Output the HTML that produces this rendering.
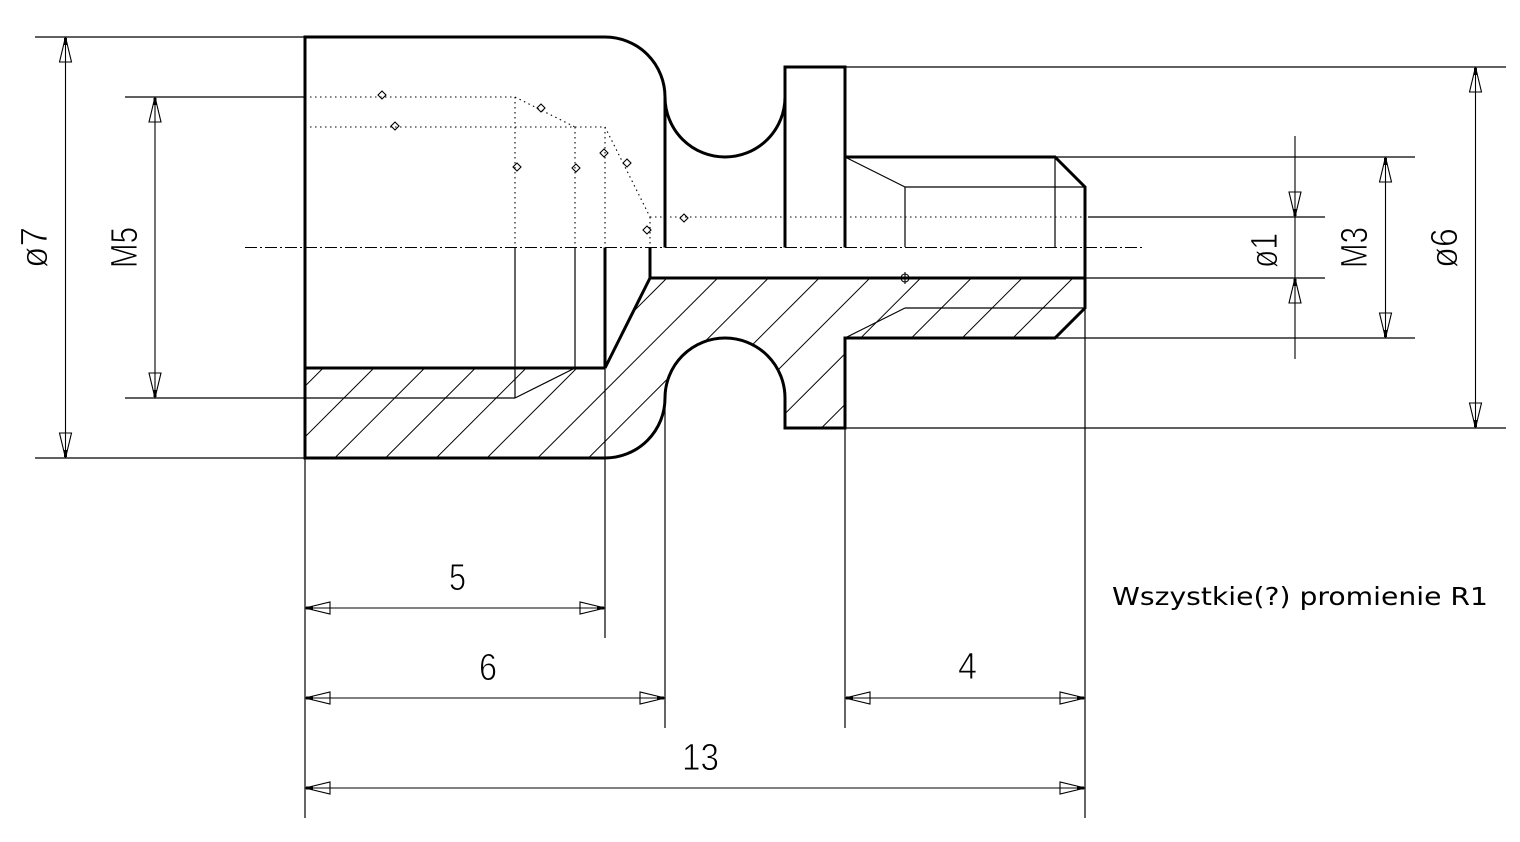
<!DOCTYPE html>
<html><head><meta charset="utf-8"><style>
html,body{margin:0;padding:0;background:#fff;}
svg{display:block;}
.k{stroke:#000;stroke-width:3;fill:none;stroke-linejoin:miter;}
.t{stroke:#000;stroke-width:1.2;fill:none;}
.d{stroke:#000;stroke-width:1.1;fill:none;stroke-dasharray:1.5 3.5;}
.h{stroke:#000;stroke-width:1;}
.a{stroke:#000;stroke-width:1.1;fill:none;}
.num{font-family:"Liberation Sans",sans-serif;font-size:38px;fill:#000;stroke:#fff;stroke-width:0.9;}
</style></head><body>
<svg width="1520" height="842" viewBox="0 0 1520 842" xmlns="http://www.w3.org/2000/svg">
<rect width="1520" height="842" fill="#fff"/>
<defs>
<clipPath id="sec"><path d="M305,368 L605,368 L650,278 L1085,278 L1085,308 L1055,338 L845,338 L845,428 L785,428 L785,398 A60,60 0 0,0 665,398 A60,60 0 0,1 605,458 L305,458 Z"/></clipPath>
</defs>

<!-- hatching -->
<g clip-path="url(#sec)" class="h">
<line x1="140.45" y1="500" x2="440.45" y2="200"/>
<line x1="191.2" y1="500" x2="491.2" y2="200"/>
<line x1="241.95" y1="500" x2="541.95" y2="200"/>
<line x1="292.7" y1="500" x2="592.7" y2="200"/>
<line x1="343.45" y1="500" x2="643.45" y2="200"/>
<line x1="394.2" y1="500" x2="694.2" y2="200"/>
<line x1="444.95" y1="500" x2="744.95" y2="200"/>
<line x1="495.7" y1="500" x2="795.7" y2="200"/>
<line x1="546.45" y1="500" x2="846.45" y2="200"/>
<line x1="597.2" y1="500" x2="897.2" y2="200"/>
<line x1="647.95" y1="500" x2="947.95" y2="200"/>
<line x1="698.7" y1="500" x2="998.7" y2="200"/>
<line x1="749.45" y1="500" x2="1049.45" y2="200"/>
<line x1="800.2" y1="500" x2="1100.2" y2="200"/>
<line x1="850.95" y1="500" x2="1150.95" y2="200"/>
<line x1="901.7" y1="500" x2="1201.7" y2="200"/>
</g>

<!-- centerline -->
<line x1="245" y1="247.5" x2="1145" y2="247.5" stroke="#000" stroke-width="1.1" stroke-dasharray="12 3 2 3"/>

<!-- hidden lines -->
<g class="d">
<line x1="305" y1="97" x2="515" y2="97"/>
<line x1="515" y1="97" x2="575" y2="127"/>
<line x1="305" y1="127" x2="605" y2="127"/>
<line x1="515" y1="97" x2="515" y2="247"/>
<line x1="575" y1="127" x2="575" y2="247"/>
<line x1="605" y1="127" x2="605" y2="247"/>
<line x1="605" y1="127" x2="650" y2="217"/>
<line x1="650" y1="217" x2="1088" y2="217"/>
<line x1="650" y1="217" x2="650" y2="247"/>
</g>
<!-- diamonds -->
<g class="a" stroke-width="0.9">
<path d="M382,91 L386,95 L382,99 L378,95 Z"/>
<path d="M395,122 L399,126 L395,130 L391,126 Z"/>
<path d="M541,104 L545,108 L541,112 L537,108 Z"/>
<path d="M517,163 L521,167 L517,171 L513,167 Z"/>
<path d="M576,164 L580,168 L576,172 L572,168 Z"/>
<path d="M604,149 L608,153 L604,157 L600,153 Z"/>
<path d="M627,159 L631,163 L627,167 L623,163 Z"/>
<path d="M647,226 L651,230 L647,234 L643,230 Z"/>
<path d="M684,214 L688,218 L684,222 L680,218 Z"/>
</g>
<!-- crosshair -->
<circle cx="905" cy="278" r="4" class="a"/>
<line x1="899" y1="278" x2="911" y2="278" class="a"/>
<line x1="905" y1="272" x2="905" y2="284" class="a"/>

<!-- thin part lines -->
<g class="t">
<line x1="515" y1="247" x2="515" y2="398"/>
<line x1="575" y1="247" x2="575" y2="368"/>
<line x1="515" y1="398" x2="575" y2="368"/>
<line x1="845" y1="157" x2="905" y2="187"/>
<line x1="905" y1="187" x2="1085" y2="187"/>
<line x1="905" y1="187" x2="905" y2="247"/>
<line x1="1055" y1="157" x2="1055" y2="247"/>
<line x1="905" y1="308" x2="1085" y2="308"/>
<line x1="905" y1="308" x2="845" y2="338"/>
</g>

<!-- extension lines -->
<g class="t">
<line x1="35" y1="37" x2="305" y2="37"/>
<line x1="35" y1="458" x2="305" y2="458"/>
<line x1="125" y1="97" x2="305" y2="97"/>
<line x1="125" y1="398" x2="515" y2="398"/>
<line x1="845" y1="67" x2="1506" y2="67"/>
<line x1="845" y1="428" x2="1506" y2="428"/>
<line x1="1055" y1="157" x2="1415" y2="157"/>
<line x1="1055" y1="338" x2="1415" y2="338"/>
<line x1="1088" y1="217" x2="1325" y2="217"/>
<line x1="1085" y1="278" x2="1325" y2="278"/>
<line x1="305" y1="458" x2="305" y2="818"/>
<line x1="605" y1="368" x2="605" y2="638"/>
<line x1="665" y1="398" x2="665" y2="728"/>
<line x1="845" y1="428" x2="845" y2="728"/>
<line x1="1085" y1="308" x2="1085" y2="818"/>
</g>

<!-- thick outline -->
<path class="k" d="M305,458 L305,37 L605,37 A60,60 0 0,1 665,97 A60,60 0 0,0 785,97 L785,67 L845,67 L845,157 L1055,157 L1085,187 L1085,308 L1055,338 L845,338 L845,428 L785,428 L785,398 A60,60 0 0,0 665,398 A60,60 0 0,1 605,458 Z"/>
<g class="k">
<line x1="665" y1="97" x2="665" y2="247.5"/>
<line x1="785" y1="97" x2="785" y2="247.5"/>
<line x1="845" y1="157" x2="845" y2="247.5"/>
<line x1="605" y1="247.5" x2="605" y2="368"/>
<line x1="305" y1="368" x2="605" y2="368"/>
<line x1="605" y1="368" x2="650" y2="278"/>
<line x1="650" y1="247.5" x2="650" y2="278"/>
<line x1="650" y1="278" x2="1085" y2="278"/>
</g>

<!-- dimension lines -->
<g class="a">
<!-- Ø7 -->
<line x1="65.5" y1="37" x2="65.5" y2="458"/>
<path d="M65.5,37 L59.5,62 L71.5,62 Z M65.5,458 L59.5,433 L71.5,433 Z"/>
<!-- M5 -->
<line x1="155" y1="97" x2="155" y2="398"/>
<path d="M155,97 L149,122 L161,122 Z M155,398 L149,373 L161,373 Z"/>
<!-- Ø6 -->
<line x1="1475.5" y1="67" x2="1475.5" y2="428"/>
<path d="M1475.5,67 L1469.5,92 L1481.5,92 Z M1475.5,428 L1469.5,403 L1481.5,403 Z"/>
<!-- M3 -->
<line x1="1385.5" y1="157" x2="1385.5" y2="338"/>
<path d="M1385.5,157 L1379.5,182 L1391.5,182 Z M1385.5,338 L1379.5,313 L1391.5,313 Z"/>
<!-- Ø1 -->
<line x1="1295" y1="136" x2="1295" y2="359"/>
<path d="M1295,217 L1289,192 L1301,192 Z M1295,278 L1289,303 L1301,303 Z"/>
<!-- 5 -->
<line x1="305" y1="608" x2="605" y2="608"/>
<path d="M305,608 L330,602 L330,614 Z M605,608 L580,602 L580,614 Z"/>
<!-- 6 -->
<line x1="305" y1="698" x2="665" y2="698"/>
<path d="M305,698 L330,692 L330,704 Z M665,698 L640,692 L640,704 Z"/>
<!-- 4 -->
<line x1="845" y1="698" x2="1085" y2="698"/>
<path d="M845,698 L870,692 L870,704 Z M1085,698 L1060,692 L1060,704 Z"/>
<!-- 13 -->
<line x1="305" y1="788" x2="1085" y2="788"/>
<path d="M305,788 L330,782 L330,794 Z M1085,788 L1060,782 L1060,794 Z"/>
</g>
<!-- arrow tip thickening -->
<g stroke="#000" stroke-width="3">
<line x1="65.5" y1="38" x2="65.5" y2="45"/><line x1="65.5" y1="457" x2="65.5" y2="450"/>
<line x1="155" y1="98" x2="155" y2="105"/><line x1="155" y1="397" x2="155" y2="390"/>
<line x1="1475.5" y1="68" x2="1475.5" y2="75"/><line x1="1475.5" y1="427" x2="1475.5" y2="420"/>
<line x1="1385.5" y1="158" x2="1385.5" y2="165"/><line x1="1385.5" y1="337" x2="1385.5" y2="330"/>
<line x1="1295" y1="216" x2="1295" y2="209"/><line x1="1295" y1="279" x2="1295" y2="286"/>
<line x1="306" y1="608" x2="313" y2="608"/><line x1="604" y1="608" x2="597" y2="608"/>
<line x1="306" y1="698" x2="313" y2="698"/><line x1="664" y1="698" x2="657" y2="698"/>
<line x1="846" y1="698" x2="853" y2="698"/><line x1="1084" y1="698" x2="1077" y2="698"/>
<line x1="306" y1="788" x2="313" y2="788"/><line x1="1084" y1="788" x2="1077" y2="788"/>
</g>

<!-- dimension texts -->
<text class="num" x="449" y="590" textLength="17" lengthAdjust="spacingAndGlyphs">5</text>
<text class="num" x="479" y="680" textLength="18" lengthAdjust="spacingAndGlyphs">6</text>
<text class="num" x="958" y="679" textLength="19" lengthAdjust="spacingAndGlyphs">4</text>
<text class="num" x="682" y="770" textLength="37" lengthAdjust="spacingAndGlyphs">13</text>

<text class="num" transform="translate(47,268) rotate(-90)" textLength="41" lengthAdjust="spacingAndGlyphs">ø7</text>
<text class="num" transform="translate(137,268) rotate(-90)" textLength="41" lengthAdjust="spacingAndGlyphs">M5</text>
<text class="num" transform="translate(1277,268) rotate(-90)" textLength="35" lengthAdjust="spacingAndGlyphs">ø1</text>
<text class="num" transform="translate(1367,268) rotate(-90)" textLength="41" lengthAdjust="spacingAndGlyphs">M3</text>
<text class="num" transform="translate(1457,268) rotate(-90)" textLength="40" lengthAdjust="spacingAndGlyphs">ø6</text>

<text x="1112" y="605" font-family="DejaVu Sans, Liberation Sans, sans-serif" font-size="25" fill="#000" textLength="376" lengthAdjust="spacingAndGlyphs">Wszystkie(?) promienie R1</text>
</svg>
</body></html>
